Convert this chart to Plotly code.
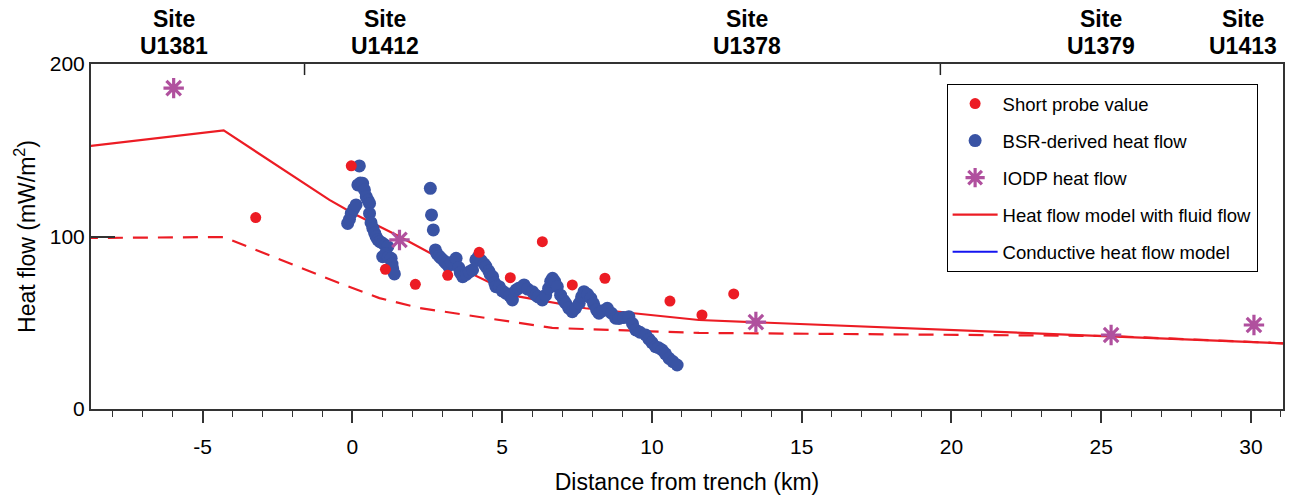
import plotly.graph_objects as go

# Short probe heat flow values (km from trench, mW/m2)
probe_x = [-3.23, -0.04, 1.10, 2.10, 3.18, 4.23, 5.27, 6.34, 7.34, 8.43, 10.60, 11.67, 12.73]
probe_y = [111.0, 141.0, 81.0, 72.3, 77.5, 90.8, 76.1, 97.0, 71.9, 75.8, 62.6, 54.5, 66.7]

# BSR-derived heat flow
bsr_x = [-0.16, -0.10, -0.04, 0.04, 0.12, 0.18, 0.23, 0.26, 0.34, 0.40, 0.46, 0.52, 0.57, 0.57,
         0.62, 0.68, 0.74, 0.79, 0.85, 0.92, 1.01, 1.10, 1.18, 1.01, 1.10, 1.20, 1.29, 1.32, 1.34,
         1.40,
         2.60, 2.64, 2.70, 2.77, 2.82, 2.90, 2.96, 3.05, 3.12, 3.20, 3.30, 3.46, 3.55, 3.60, 3.68,
         3.80, 3.90, 4.01, 4.12, 4.20, 4.30, 4.40, 4.46, 4.55, 4.60, 4.68, 4.75, 4.79, 4.90, 5.00,
         5.12, 5.25, 5.34, 5.46, 5.55, 5.68, 5.73, 5.85, 6.01, 6.12, 6.20, 6.34, 6.45, 6.55, 6.62,
         6.68, 6.75, 6.84, 6.95, 7.05, 7.12, 7.22, 7.34, 7.45, 7.57, 7.65, 7.73, 7.85, 7.96, 8.05,
         8.15, 8.23, 8.35, 8.51, 8.65, 8.79, 8.90, 9.05, 9.23, 9.35, 9.46, 9.60, 9.79, 9.90, 10.00,
         10.12, 10.22, 10.34, 10.45, 10.57, 10.70, 10.84]
bsr_y = [107.6, 110.0, 113.4, 116.0, 118.3, 129.9, 140.9, 131.0, 130.8, 127.0, 123.1, 121.0, 119.2, 113.4,
         108.0, 104.8, 102.0, 99.9, 98.0, 97.0, 96.1, 95.0, 94.1, 88.3, 90.0, 88.0, 87.4, 84.0, 81.6,
         78.3,
         127.9, 112.5, 103.8, 92.2, 90.0, 88.5, 87.4, 86.0, 84.5, 83.0, 85.0, 87.4, 82.0, 79.0, 76.7,
         78.0, 79.5, 80.6, 86.4, 88.0, 86.0, 84.0, 82.5, 80.0, 78.0, 76.7, 73.0, 70.9, 70.9, 68.5,
         67.1, 65.5, 63.2, 69.0, 70.0, 70.9, 71.9, 69.5, 68.0, 66.0, 65.0, 63.2, 66.0, 70.0, 74.0,
         75.8, 74.0, 70.9, 66.0, 63.0, 61.3, 58.5, 56.4, 58.5, 61.3, 65.0, 68.0, 66.5, 64.2, 61.0,
         57.5, 55.5, 57.0, 58.4, 55.5, 52.6, 52.5, 53.0, 53.5, 49.5, 45.8, 44.5, 42.9, 40.5, 38.5,
         36.1, 35.5, 34.2, 32.0, 29.4, 27.5, 25.5]

# IODP site heat flow
iodp_x = [-5.97, 1.57, 13.47, 25.33, 30.10]
iodp_y = [186.0, 98.0, 50.4, 42.9, 48.7]

# Heat flow model with fluid flow
fluid_x = [-9.0, -4.3, -0.77, 0.0, 1.57, 3.0, 5.57, 7.78, 11.57, 25.33, 31.2]
fluid_y = [152.0, 161.5, 121.2, 113.6, 100.0, 86.6, 65.1, 58.4, 51.6, 42.0, 38.0]

# Second (dashed) model curve
dashed_x = [-9.0, -4.3, -0.53, 0.9, 2.23, 4.9, 6.67, 11.57, 25.33, 31.2]
dashed_y = [99.1, 99.7, 73.6, 64.3, 58.6, 51.6, 47.0, 44.1, 42.3, 38.0]

# Drill sites shown above the frame
site_names = ["U1381", "U1412", "U1378", "U1379", "U1413"]
site_x = [-5.97, 1.1, 13.17, 25.0, 29.73]

# Axis tick labels (plain hyphen for negatives)
x_tick_vals = [-5, 0, 5, 10, 15, 20, 25, 30]
x_tick_text = ["-5", "0", "5", "10", "15", "20", "25", "30"]
y_tick_vals = [0, 100, 200]

# Marks on the upper frame
top_tick_x = [-1.6, 19.63]

RED = "#EC1C24"
BLUE_PTS = "#3953A4"
PURPLE = "#B0509E"
FONT = "Liberation Sans, Arial, Helvetica, sans-serif"

fig = go.Figure()

fig.add_trace(go.Scatter(
    x=fluid_x, y=fluid_y, mode="lines", name="Heat flow model with fluid flow",
    line=dict(color=RED, width=2.2), legendgroup="g4", legendrank=4))
fig.add_trace(go.Scatter(
    x=dashed_x, y=dashed_y, mode="lines", showlegend=False,
    line=dict(color=RED, width=2.2, dash="15px,10px")))
fig.add_trace(go.Scatter(
    x=[None], y=[None], mode="lines", name="Conductive heat flow model",
    line=dict(color="#1414F0", width=2.2), legendgroup="g5", legendrank=5))
fig.add_trace(go.Scatter(
    x=bsr_x, y=bsr_y, mode="markers", name="BSR-derived heat flow",
    marker=dict(color=BLUE_PTS, size=13, line=dict(width=0)),
    legendgroup="g2", legendrank=2))
fig.add_trace(go.Scatter(
    x=probe_x, y=probe_y, mode="markers", name="Short probe value",
    marker=dict(color=RED, size=11, line=dict(width=0)),
    legendgroup="g1", legendrank=1))
fig.add_trace(go.Scatter(
    x=iodp_x, y=iodp_y, mode="markers", name="IODP heat flow",
    marker=dict(symbol="asterisk-open", color=PURPLE, size=17,
                line=dict(color=PURPLE, width=3.2)),
    legendgroup="g3", legendrank=3))

annotations = []
for name, sx in zip(site_names, site_x):
    annotations.append(dict(x=sx, y=1.1304, xref="x", yref="paper", text="<b>Site</b>",
                            showarrow=False, font=dict(size=23, color="black", family=FONT),
                            xanchor="center", yanchor="middle"))
    annotations.append(dict(x=sx, y=1.0522, xref="x", yref="paper", text="<b>" + name + "</b>",
                            showarrow=False, font=dict(size=23, color="black", family=FONT),
                            xanchor="center", yanchor="middle"))

shapes = [dict(type="line", xref="x", yref="paper", x0=tx, x1=tx, y0=1.0, y1=0.968,
               line=dict(color="#222", width=1.5)) for tx in top_tick_x]

fig.update_layout(
    width=1289, height=496,
    margin=dict(l=91, r=4, t=64, b=87),
    paper_bgcolor="white", plot_bgcolor="white",
    font=dict(family=FONT, color="black"),
    annotations=annotations,
    shapes=shapes,
    legend=dict(
        x=0.7178, y=0.942, xanchor="left", yanchor="top",
        bordercolor="black", borderwidth=1, bgcolor="white",
        font=dict(size=18.5, family=FONT, color="black"),
        traceorder="grouped", tracegroupgap=10,
        itemwidth=45,
    ),
    showlegend=True,
)

fig.update_xaxes(
    range=[-8.73, 31.07], showgrid=False, zeroline=False,
    showline=True, linecolor="#333", linewidth=2, mirror=True,
    ticks="outside", tickvals=x_tick_vals, ticktext=x_tick_text,
    ticklen=12, tickwidth=1.5, tickcolor="#333",
    minor=dict(ticks="outside", dtick=1, tick0=0, ticklen=6, tickwidth=1.2, tickcolor="#333"),
    tickfont=dict(size=21, family=FONT, color="black"),
    ticklabelstandoff=6,
    title=dict(text="Distance from trench (km)", font=dict(size=23, family=FONT, color="black"),
               standoff=17),
)
fig.update_yaxes(
    range=[0, 200], showgrid=False, zeroline=False,
    showline=True, linecolor="#333", linewidth=2, mirror=True,
    tickvals=y_tick_vals, ticks="inside", ticklen=24, tickwidth=1.5, tickcolor="#333",
    tickfont=dict(size=21, family=FONT, color="black"),
    title=dict(text="Heat flow (mW/m<sup>2</sup>)", font=dict(size=23, family=FONT, color="black"),
               standoff=8),
)

fig.write_html("out.html")
